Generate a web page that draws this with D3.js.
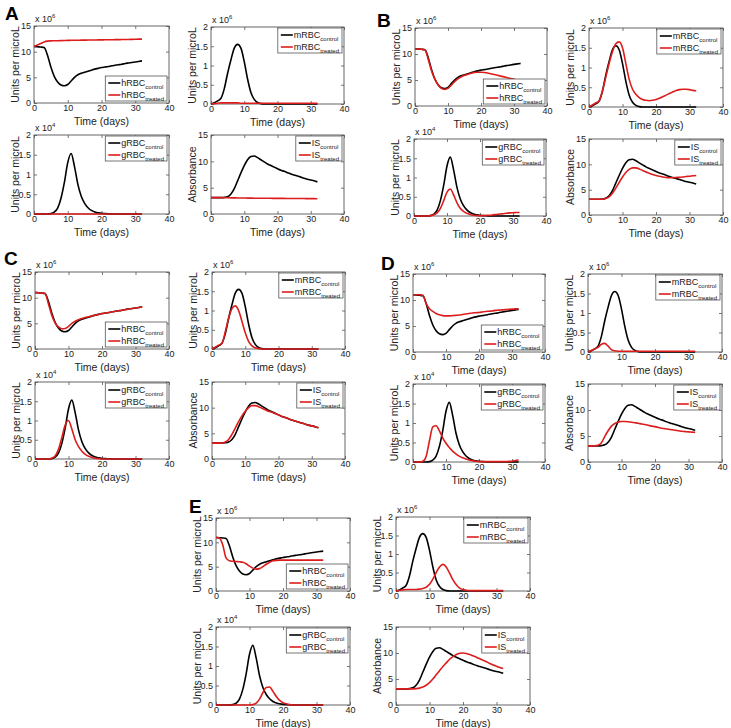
<!DOCTYPE html>
<html><head><meta charset="utf-8">
<script src="https://cdn.jsdelivr.net/npm/d3@7"></script>
<style>body{margin:0;background:#fff}svg{font-family:Arial,"Liberation Sans",sans-serif}</style>
</head><body><svg id="c" width="731" height="728"></svg>
<script>
// ---------------- DATA ----------------
const days = d3.range(0, 33);           // time points (days 0..32)
const xTicks = [0, 10, 20, 30, 40];
const rbcTicksH = [0, 5, 10, 15];       // hRBC (x10^6)
const rbcTicksM = [0, 0.5, 1, 1.5, 2];  // mRBC (x10^6), gRBC (x10^4)
const isTicks = [0, 5, 10, 15];         // IS absorbance
const panelLetters = ["A", "B", "C", "D", "E"];

// control series (same in every panel)
const hrbcControl = [11,10.95,10.9,10.8,9.3,7.0,5.2,4.1,3.5,3.35,3.6,4.3,5.0,5.5,5.8,6.0,6.2,6.4,6.6,6.75,6.9,7.0,7.1,7.25,7.35,7.45,7.55,7.7,7.8,7.9,8.0,8.1,8.2];
const mrbcControl = [0,0.03,0.08,0.15,0.4,0.8,1.15,1.45,1.55,1.45,1.1,0.65,0.3,0.12,0.04,0.01,0,0,0,0,0,0,0,0,0,0,0,0,0,0,0,0,0];
const grbcControl = [0,0,0,0,0,0.01,0.05,0.15,0.4,0.8,1.3,1.53,1.2,0.75,0.45,0.27,0.16,0.09,0.05,0.03,0.015,0.01,0.005,0,0,0,0,0,0,0,0,0,0];
const isControl   = [3.1,3.1,3.1,3.1,3.15,3.3,3.8,4.8,6.3,7.8,9.2,10.3,10.9,11.0,10.7,10.3,9.9,9.5,9.2,8.9,8.6,8.3,8.1,7.85,7.6,7.4,7.2,7.0,6.8,6.6,6.45,6.3,6.1];

// treated series, panel A
const hrbcTreatedA = [11,11.3,11.6,11.9,12.05,12.1,12.12,12.14,12.16,12.18,12.2,12.21,12.22,12.23,12.24,12.25,12.26,12.27,12.28,12.29,12.3,12.31,12.32,12.33,12.34,12.35,12.36,12.37,12.38,12.4,12.42,12.44,12.45];
const mrbcTreatedA = [0,0.01,0.02,0.03,0.03,0.03,0.03,0.03,0.03,0.02,0.02,0.02,0.02,0.02,0.02,0.02,0.02,0.02,0.02,0.02,0.02,0.02,0.02,0.02,0.02,0.02,0.02,0.02,0.02,0.02,0.02,0.02,0.02];
const grbcTreatedA = [0,0,0,0,0,0,0,0,0,0,0,0,0,0,0,0,0,0,0,0,0,0,0,0,0,0,0,0,0,0,0,0,0];
const isTreatedA   = [3.1,3.1,3.1,3.1,3.09,3.08,3.07,3.06,3.05,3.04,3.03,3.02,3.01,3.0,3.0,2.99,2.99,2.98,2.98,2.97,2.97,2.96,2.96,2.95,2.95,2.94,2.94,2.93,2.93,2.92,2.92,2.91,2.9];

// panel B
const hrbcTreatedB = [11,10.95,10.9,10.8,9.0,6.8,5.2,4.1,3.4,3.2,3.4,4.0,4.7,5.2,5.6,5.9,6.1,6.3,6.45,6.5,6.5,6.45,6.35,6.2,6.05,5.9,5.75,5.6,5.45,5.3,5.15,5.0,4.9];
const mrbcTreatedB = [0,0.05,0.1,0.15,0.4,0.75,1.1,1.4,1.6,1.65,1.5,1.1,0.7,0.45,0.32,0.24,0.19,0.17,0.16,0.17,0.19,0.22,0.26,0.3,0.34,0.38,0.42,0.44,0.45,0.45,0.44,0.42,0.41];
const grbcTreatedB = [0,0,0,0,0,0.01,0.03,0.08,0.2,0.4,0.62,0.7,0.55,0.35,0.2,0.12,0.07,0.04,0.02,0.01,0.01,0.01,0.015,0.02,0.03,0.04,0.05,0.06,0.07,0.08,0.085,0.09,0.09];
const isTreatedB   = [3.1,3.1,3.1,3.1,3.1,3.25,3.6,4.3,5.3,6.4,7.5,8.4,9.0,9.3,9.3,9.1,8.8,8.5,8.25,8.0,7.8,7.65,7.5,7.4,7.35,7.35,7.4,7.45,7.5,7.6,7.65,7.75,7.8];

// panel C
const hrbcTreatedC = [11,10.95,10.9,10.8,8.8,6.6,5.1,4.3,3.95,4.0,4.4,5.0,5.4,5.7,5.95,6.15,6.3,6.45,6.6,6.75,6.9,7.0,7.1,7.25,7.35,7.45,7.55,7.7,7.8,7.9,8.0,8.1,8.2];
const mrbcTreatedC = [0,0.05,0.1,0.15,0.45,0.8,1.05,1.12,1.0,0.72,0.42,0.2,0.08,0.03,0.01,0,0,0,0,0,0,0,0,0,0,0,0,0,0,0,0,0,0];
const grbcTreatedC = [0,0,0,0,0,0.02,0.08,0.25,0.55,0.88,1.0,0.78,0.5,0.32,0.2,0.12,0.07,0.04,0.02,0.01,0,0,0,0,0,0,0,0,0,0,0,0,0];
const isTreatedC   = [3.1,3.1,3.1,3.1,3.3,3.8,4.8,6.0,7.3,8.4,9.3,10.0,10.4,10.4,10.2,9.9,9.6,9.3,9.1,8.85,8.6,8.3,8.1,7.85,7.6,7.4,7.2,7.0,6.8,6.6,6.45,6.3,6.1];

// panel D
const hrbcTreatedD = [11,11,11,10.9,9.3,8.3,7.8,7.4,7.15,7.0,6.95,6.95,7.0,7.05,7.1,7.2,7.3,7.4,7.5,7.55,7.6,7.7,7.8,7.85,7.9,8.0,8.05,8.1,8.15,8.2,8.25,8.3,8.3];
const mrbcTreatedD = [0,0.04,0.08,0.12,0.2,0.22,0.15,0.06,0.03,0.02,0.02,0.02,0.02,0.02,0.02,0.02,0.02,0.02,0.02,0.02,0.02,0.02,0.02,0.02,0.02,0.02,0.02,0.02,0.02,0.02,0.02,0.02,0.02];
const grbcTreatedD = [0,0,0,0.02,0.15,0.55,0.9,0.93,0.8,0.62,0.48,0.37,0.28,0.21,0.15,0.11,0.08,0.05,0.035,0.02,0.015,0.01,0.01,0.01,0.01,0.01,0.01,0.01,0.01,0.015,0.02,0.04,0.05];
const isTreatedD   = [3.1,3.1,3.1,3.2,3.7,4.9,6.0,6.9,7.4,7.7,7.8,7.8,7.75,7.65,7.55,7.45,7.3,7.2,7.05,6.9,6.8,6.65,6.5,6.4,6.3,6.2,6.1,6.0,5.9,5.85,5.8,5.75,5.7];

// panel E
const hrbcTreatedE = [11,10.9,9.5,6.8,6.2,6.1,6.05,6.0,5.9,5.6,5.1,4.7,4.5,4.6,5.0,5.5,5.9,6.2,6.3,6.35,6.35,6.35,6.35,6.35,6.35,6.35,6.35,6.35,6.35,6.35,6.35,6.35,6.35];
const mrbcTreatedE = [0,0.02,0.03,0.04,0.04,0.04,0.04,0.05,0.07,0.1,0.18,0.32,0.5,0.65,0.72,0.65,0.48,0.3,0.17,0.08,0.04,0.02,0.01,0.01,0.01,0.01,0.01,0.01,0.01,0.01,0.01,0.01,0.01];
const grbcTreatedE = [0,0,0,0,0,0,0,0,0,0,0,0.01,0.05,0.15,0.32,0.45,0.46,0.35,0.22,0.12,0.06,0.03,0.01,0,0,0,0,0,0,0,0,0,0];
const isTreatedE   = [3.1,3.1,3.1,3.1,3.1,3.1,3.15,3.25,3.45,3.8,4.3,5.0,5.8,6.6,7.4,8.1,8.8,9.3,9.7,9.95,10.0,9.9,9.7,9.45,9.2,8.9,8.6,8.3,8.0,7.7,7.45,7.2,7.0];

const treated = {
  A: [hrbcTreatedA, mrbcTreatedA, grbcTreatedA, isTreatedA],
  B: [hrbcTreatedB, mrbcTreatedB, grbcTreatedB, isTreatedB],
  C: [hrbcTreatedC, mrbcTreatedC, grbcTreatedC, isTreatedC],
  D: [hrbcTreatedD, mrbcTreatedD, grbcTreatedD, isTreatedD],
  E: [hrbcTreatedE, mrbcTreatedE, grbcTreatedE, isTreatedE]
};
const controls = [hrbcControl, mrbcControl, grbcControl, isControl];

// ---------------- LAYOUT ----------------
const svg = d3.select("#c");
const RED = "#dd1c1c", AX = "#555";
// plot rectangles per panel: [hRBC, mRBC, gRBC, IS] as [x0,y0,x1,y1]
const layout = {
  A: {label:[5,20],  rects:[[34,26,169,103],[211,27,344,104],[34,135,169,214],[211,135,344,214]]},
  B: {label:[377,27], rects:[[415,28,547,106],[589,28,723,107],[414,139,546,216],[589,139,723,215]]},
  C: {label:[4,265], rects:[[35,272,169,349],[212,272,345,349],[35,382,169,459],[212,382,345,459]]},
  D: {label:[381,270], rects:[[413,274,545,352],[588,274,722,352],[413,384,545,462],[588,384,722,462]]},
  E: {label:[189,513], rects:[[216,518,350,591],[396,517,530,591],[216,627,350,705],[396,627,530,705]]}
};
const plotSpecs = [
  {name:"hRBC", ymax:15, ticks:rbcTicksH, exp:"6", ylab:"Units per microL", legendPos:"bottom"},
  {name:"mRBC", ymax:2, ticks:rbcTicksM, exp:"6", ylab:"Units per microL", legendPos:"top"},
  {name:"gRBC", ymax:2, ticks:rbcTicksM, exp:"4", ylab:"Units per microL", legendPos:"top"},
  {name:"IS", ymax:15, ticks:isTicks, exp:null, ylab:"Absorbance", legendPos:"top"}
];

function styleAxis(sel, labels) {
  sel.select(".domain").remove();
  sel.selectAll(".tick line").attr("stroke", AX).attr("stroke-width", 0.8);
  sel.selectAll(".tick text").attr("fill", "#222").attr("font-size", 9)
     .attr("font-family", "Arial, 'Liberation Sans', sans-serif");
  if (!labels) sel.selectAll(".tick text").remove();
}

function drawPlot(rect, spec, ctrl, trt) {
  const [x0, y0, x1, y1] = rect;
  const g = svg.append("g");
  const x = d3.scaleLinear().domain([0, 40]).range([x0, x1]);
  const y = d3.scaleLinear().domain([0, spec.ymax]).range([y1, y0]);
  const fmt = d3.format("~g");

  g.append("g").attr("transform", `translate(0,${y1})`)
    .call(d3.axisBottom(x).tickValues(xTicks).tickSize(-3).tickPadding(2).tickFormat(fmt))
    .call(s => styleAxis(s, true));
  g.append("g").attr("transform", `translate(0,${y0})`)
    .call(d3.axisTop(x).tickValues(xTicks).tickSize(-3).tickFormat(""))
    .call(s => styleAxis(s, false));
  g.append("g").attr("transform", `translate(${x0},0)`)
    .call(d3.axisLeft(y).tickValues(spec.ticks).tickSize(-3).tickPadding(3).tickFormat(fmt))
    .call(s => styleAxis(s, true));
  g.append("g").attr("transform", `translate(${x1},0)`)
    .call(d3.axisRight(y).tickValues(spec.ticks).tickSize(-3).tickFormat(""))
    .call(s => styleAxis(s, false));
  g.append("rect").attr("x", x0).attr("y", y0).attr("width", x1 - x0).attr("height", y1 - y0)
    .attr("fill", "none").attr("stroke", AX).attr("stroke-width", 0.9);

  const line = d3.line().x((d, i) => x(days[i])).y(d => y(d)).curve(d3.curveMonotoneX);
  g.append("path").datum(ctrl).attr("d", line).attr("fill", "none").attr("stroke", "#000").attr("stroke-width", 1.6);
  g.append("path").datum(trt).attr("d", line).attr("fill", "none").attr("stroke", RED).attr("stroke-width", 1.6);

  // exponent label
  if (spec.exp) {
    const t = g.append("text").attr("x", x0 + 1).attr("y", y0 - 4).attr("font-size", 9).attr("fill", "#222").text("x 10");
    t.append("tspan").attr("font-size", 6).attr("dy", -4).text(spec.exp);
  }
  // axis labels
  g.append("text").attr("x", (x0 + x1) / 2).attr("y", y1 + 22).attr("text-anchor", "middle")
    .attr("font-size", 10.5).attr("fill", "#222").text("Time (days)");
  g.append("text").attr("transform", `translate(${x0 - 15},${(y0 + y1) / 2}) rotate(-90)`)
    .attr("text-anchor", "middle").attr("font-size", 10.5).attr("fill", "#222").text(spec.ylab);

  // legend
  const lg = g.append("g");
  const box = lg.append("rect").attr("fill", "#fff").attr("stroke", AX).attr("stroke-width", 0.8);
  const rows = [["control", "#000"], ["treated", RED]];
  let maxW = 0;
  const items = rows.map(([sub, col], i) => {
    const ln = lg.append("line").attr("stroke", col).attr("stroke-width", 1.6);
    const tx = lg.append("text").attr("font-size", 9).attr("fill", "#222").text(spec.name);
    tx.append("tspan").attr("font-size", 6).attr("dy", 2.5).text(sub);
    maxW = Math.max(maxW, tx.node().getComputedTextLength());
    return {ln, tx, i};
  });
  const w = 16 + maxW + 3, h = 25;
  const lx = x1 - w - 2;
  const ly = spec.legendPos === "top" ? y0 + 1 : y1 - h - 2;
  box.attr("x", lx).attr("y", ly).attr("width", w).attr("height", h);
  items.forEach(({ln, tx, i}) => {
    const ry = ly + 7 + i * 12;
    ln.attr("x1", lx + 3).attr("x2", lx + 15).attr("y1", ry).attr("y2", ry);
    tx.attr("x", lx + 16).attr("y", ry + 3);
  });
}

panelLetters.forEach(p => {
  const L = layout[p];
  svg.append("text").attr("x", L.label[0]).attr("y", L.label[1]).attr("font-size", 19)
    .attr("font-weight", "bold").attr("fill", "#000").text(p);
  plotSpecs.forEach((spec, k) => drawPlot(L.rects[k], spec, controls[k], treated[p][k]));
});
</script></body></html>
